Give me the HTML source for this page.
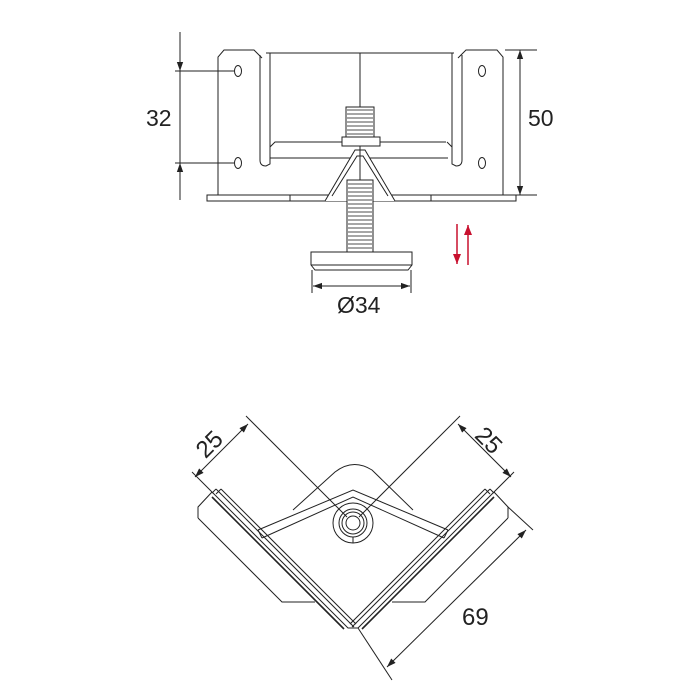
<!DOCTYPE html>
<html><head><style>html,body{margin:0;padding:0;background:#fff}svg{display:block}</style></head>
<body>
<svg width="700" height="700" viewBox="0 0 700 700" xmlns="http://www.w3.org/2000/svg" font-family="Liberation Sans, sans-serif">
<defs>
<marker id="a" viewBox="0 0 10 10" refX="10" refY="5" markerWidth="9" markerHeight="9" orient="auto-start-reverse" markerUnits="userSpaceOnUse"><path d="M0,1.5 L10,5 L0,8.5z" fill="#222"/></marker>
<marker id="r" viewBox="0 0 10 10" refX="10" refY="5" markerWidth="10" markerHeight="10" orient="auto" markerUnits="userSpaceOnUse"><path d="M0,1 L10,5 L0,9z" fill="#c8102e"/></marker>
</defs>
<g fill="none" stroke="#222" stroke-width="1">
<!-- TOP VIEW -->
<path d="M218,195 L218,57 L224,50 L254,50 L262,58"/>
<path d="M503,195 L503,57 L497,50 L466,50 L458,58"/>
<line x1="266" y1="53" x2="454" y2="53"/>
<path d="M260,55 L260,160 Q260,166 266,166 L270,164 L270,53"/>
<path d="M270,147 L275,142 L446,142"/>
<path d="M270,158 L448,158"/>
<path d="M462,55 L462,160 Q462,166 456,166 L452,164 L452,53"/>
<path d="M452,147 L447,142"/>
<line x1="360" y1="53" x2="360" y2="108"/>
<rect x="207" y="195" width="309" height="6"/>
<line x1="290" y1="195" x2="290" y2="201"/><line x1="431" y1="195" x2="431" y2="201"/>
<!-- threads -->
<rect x="346" y="107" width="28" height="30" fill="#fff"/>
<g stroke="#888" stroke-width="1.5">
<line x1="347" y1="110" x2="373" y2="110"/><line x1="347" y1="114" x2="373" y2="114"/><line x1="347" y1="118" x2="373" y2="118"/><line x1="347" y1="122" x2="373" y2="122"/><line x1="347" y1="126" x2="373" y2="126"/><line x1="347" y1="130" x2="373" y2="130"/><line x1="347" y1="134" x2="373" y2="134"/>
</g>
<rect x="342" y="137" width="38" height="9" fill="#fff"/>
<path d="M325,201 L355,150 L365,150 L395,201" fill="#fff"/>
<path d="M332,196 L357,156 L363,156 L388,196"/>
<line x1="360" y1="146" x2="360" y2="180"/>
<rect x="347" y="180" width="26" height="72" fill="#fff"/>
<g stroke="#888" stroke-width="1.5">
<line x1="348" y1="184" x2="372" y2="184"/><line x1="348" y1="188" x2="372" y2="188"/><line x1="348" y1="192" x2="372" y2="192"/><line x1="348" y1="196" x2="372" y2="196"/><line x1="348" y1="200" x2="372" y2="200"/><line x1="348" y1="204" x2="372" y2="204"/><line x1="348" y1="208" x2="372" y2="208"/><line x1="348" y1="212" x2="372" y2="212"/><line x1="348" y1="216" x2="372" y2="216"/><line x1="348" y1="220" x2="372" y2="220"/><line x1="348" y1="224" x2="372" y2="224"/><line x1="348" y1="228" x2="372" y2="228"/><line x1="348" y1="232" x2="372" y2="232"/><line x1="348" y1="236" x2="372" y2="236"/><line x1="348" y1="240" x2="372" y2="240"/><line x1="348" y1="244" x2="372" y2="244"/><line x1="348" y1="248" x2="372" y2="248"/>
</g>
<path d="M311,252 L412,252 L412,265 L408,270 L315,270 L311,265 Z"/>
<line x1="311" y1="265" x2="412" y2="265"/>
<!-- holes -->
<ellipse cx="238" cy="71" rx="3.5" ry="5.5"/><ellipse cx="238" cy="163" rx="3.5" ry="5.5"/>
<ellipse cx="482" cy="71" rx="3.5" ry="5.5"/><ellipse cx="482" cy="163" rx="3.5" ry="5.5"/>
<!-- dims -->
<line x1="180" y1="32" x2="180" y2="71" marker-end="url(#a)"/>
<line x1="180" y1="200" x2="180" y2="163" marker-end="url(#a)"/>
<line x1="180" y1="71" x2="180" y2="163"/>
<line x1="175" y1="71" x2="234" y2="71"/><line x1="175" y1="163" x2="234" y2="163"/>
<line x1="520" y1="50" x2="520" y2="195" marker-start="url(#a)" marker-end="url(#a)"/>
<line x1="505" y1="50" x2="537" y2="50"/><line x1="505" y1="195" x2="537" y2="195"/>
<line x1="312" y1="270" x2="312" y2="293"/><line x1="411" y1="270" x2="411" y2="293"/>
<line x1="313" y1="286" x2="410" y2="286" marker-start="url(#a)" marker-end="url(#a)"/>
</g>
<line x1="457" y1="224" x2="457" y2="264" stroke="#c8102e" stroke-width="1.5" marker-end="url(#r)"/>
<line x1="468" y1="265" x2="468" y2="225" stroke="#c8102e" stroke-width="1.5" marker-end="url(#r)"/>
<g font-size="23" fill="#222">
<text x="146" y="126">32</text>
<text x="528" y="126">50</text>
<text x="337" y="313">Ø34</text>
</g>

<!-- BOTTOM VIEW -->
<g fill="none" stroke="#222" stroke-width="1">
<path d="M198,518 L198,507 L212,492"/>
<path d="M198,518 L282,602 L315,602"/>
<path d="M508,518 L508,507 L494,492"/>
<path d="M508,518 L425,602 L392,602"/>
<path d="M293,510 L335,472 Q353,458 372,470 L413,510"/>
<!-- arms -->
<path d="M212,492 L348,628 L358,628 L494,492"/>
<line x1="216" y1="489" x2="354" y2="627"/>
<line x1="221" y1="489" x2="356" y2="624"/>
<line x1="490" y1="489" x2="352" y2="627"/>
<line x1="485" y1="489" x2="350" y2="624"/>
<line x1="212" y1="497" x2="344" y2="629" stroke-width="1.6"/>
<line x1="494" y1="497" x2="362" y2="629" stroke-width="1.6"/>
<line x1="216" y1="489" x2="212" y2="493"/><line x1="221" y1="489" x2="216" y2="494"/>
<line x1="490" y1="489" x2="494" y2="493"/><line x1="485" y1="489" x2="490" y2="494"/>
<path d="M258,530 L353,490 L448,530"/>
<path d="M262,538 L353,497 L444,538"/>
<line x1="258" y1="530" x2="262" y2="538"/><line x1="448" y1="530" x2="444" y2="538"/>
<circle cx="353" cy="523" r="20"/><circle cx="353" cy="523" r="14"/><circle cx="353" cy="523" r="11"/><circle cx="353" cy="523" r="7"/>
<line x1="353" y1="537" x2="353" y2="543"/>
<!-- dim lines -->
<line x1="347" y1="517" x2="246" y2="416"/>
<line x1="359" y1="517" x2="460" y2="416"/>
<line x1="192" y1="472" x2="212" y2="492"/>
<line x1="514" y1="472" x2="494" y2="492"/>
<line x1="195" y1="477" x2="248" y2="424" marker-start="url(#a)" marker-end="url(#a)"/>
<line x1="458" y1="424" x2="511" y2="477" marker-start="url(#a)" marker-end="url(#a)"/>
<line x1="358" y1="628" x2="392" y2="680"/>
<line x1="508" y1="507" x2="533" y2="530"/>
<line x1="387" y1="667" x2="526" y2="530" marker-start="url(#a)" marker-end="url(#a)"/>
</g>
<g font-size="24" fill="#222">
<text transform="translate(215,450) rotate(-45)" text-anchor="middle">25</text>
<text transform="translate(483,446) rotate(45)" text-anchor="middle">25</text>
<text x="462" y="625">69</text>
</g>
</svg>
</body></html>
